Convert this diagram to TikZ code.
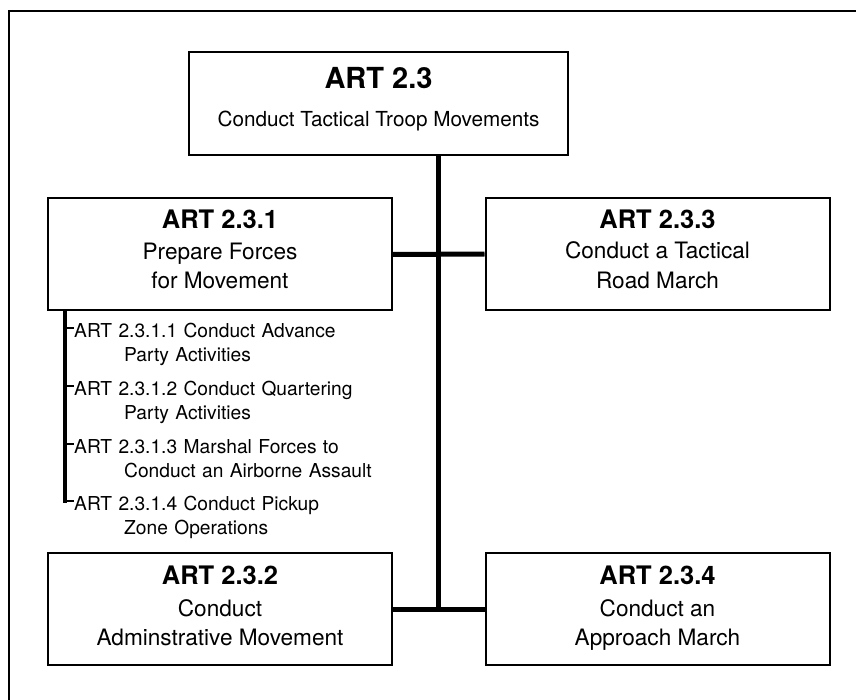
\documentclass[tikz,border=0pt]{standalone}
\usepackage{fontspec}
\setmainfont{TeX Gyre Heros}
\usetikzlibrary{calc}
\newcommand{\headfont}{\fontsize{25.5}{28}\selectfont}
\newcommand{\boxfont}{\fontsize{22.6}{29.5}\selectfont}
\newcommand{\itemfont}{\fontsize{19.2}{24}\selectfont}
\begin{document}
\begin{tikzpicture}[x=1pt,y=-1pt,
    box/.style={draw,line width=2pt,inner sep=0pt,align=center,
      minimum width=344pt,minimum height=112pt,font=\boxfont,text depth=10pt},
    trunk/.style={line width=5pt},
    rail/.style={line width=4pt},
    tick/.style={line width=2pt},
    item/.style={inner sep=0pt,anchor=base west,align=left,
      text width=320pt,font=\itemfont}]
    \useasboundingbox (0,0) rectangle (856,700);
    % frame
    \draw[line width=2.5pt] (9,700) -- (9,11) -- (856,11);
    % boxes
    \node[box,minimum width=379pt,minimum height=103pt,text depth=13pt,font=\fontsize{20.7}{30}\selectfont]
      (top) at (378.5,103.5) {{\fontsize{29}{30}\selectfont\bfseries ART 2.3}\\[8pt]Conduct Tactical Troop Movements};
    \node[box] (b1) at (220,254.5) {{\headfont\bfseries ART 2.3.1}\\[1pt]Prepare Forces\\for Movement};
    \node[box] (b3) at (657.5,254) {{\headfont\bfseries ART 2.3.3}\\[1pt]Conduct a Tactical\\Road March};
    \node[box,text depth=6pt] (b2) at (220,609) {{\headfont\bfseries ART 2.3.2}\\[2pt]Conduct\\Adminstrative Movement};
    \node[box,text depth=6pt] (b4) at (657.5,609) {{\headfont\bfseries ART 2.3.4}\\[2pt]Conduct an\\Approach March};
    % trunk
    \coordinate (jA) at (438,254.5);
    \coordinate (jB) at (438,609);
    \draw[trunk] (top.south -| jA) -- (jB);
    \draw[trunk] (b1.east) -- (b3.west);
    \draw[trunk] (b2.east) -- (b4.west);
    % sub tasks
    \coordinate (k1) at (65,328);
    \coordinate (k2) at (65,386);
    \coordinate (k3) at (65,444);
    \coordinate (k4) at (65,501);
    \node[item] (it1) at ($(k1)+(9,9.5)$) {ART 2.3.1.1 Conduct Advance\\\hspace*{50pt}Party Activities};
    \node[item] (it2) at ($(k2)+(9,9.5)$) {ART 2.3.1.2 Conduct Quartering\\\hspace*{50pt}Party Activities};
    \node[item] (it3) at ($(k3)+(9,9.5)$) {ART 2.3.1.3 Marshal Forces to\\\hspace*{50pt}Conduct an Airborne Assault};
    \node[item] (it4) at ($(k4)+(9,9.5)$) {ART 2.3.1.4 Conduct Pickup\\\hspace*{50pt}Zone Operations};
    \draw[rail,line cap=rect] (b1.south -| k1) -- (k4);
    \foreach \k/\t in {k1/it1,k2/it2,k3/it3,k4/it4}
      \draw[tick] (\k) -- (\k -| \t.west);
\end{tikzpicture}
\end{document}
